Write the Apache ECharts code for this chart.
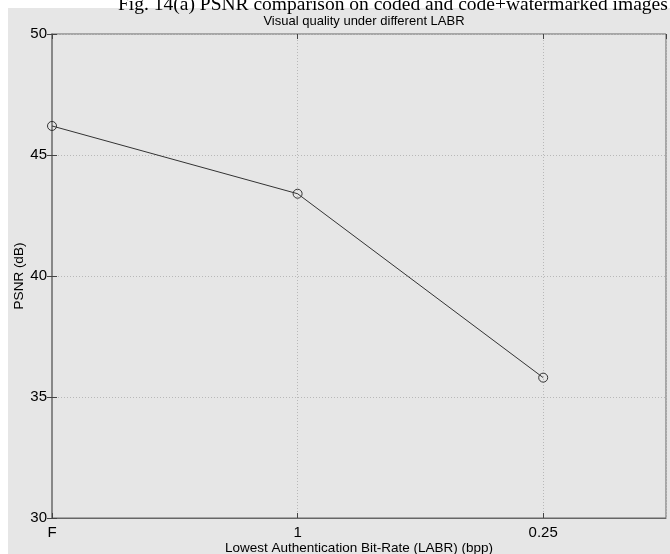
<!DOCTYPE html>
<html>
<head>
<meta charset="utf-8">
<script src="https://cdn.jsdelivr.net/npm/echarts@6/dist/echarts.min.js"></script>
<style>
html,body{margin:0;padding:0;background:#fff;}
#c{width:670px;height:554px;}
</style>
</head>
<body>
<div id="c"></div>
<script>
var categories = ['F', '1', '0.25'];
var psnr = [46.2, 43.4, 35.8];
var yTicks = [30, 35, 40, 45, 50];

var chart = echarts.init(document.getElementById('c'), null, {renderer: 'canvas'});
var seriesData = psnr.map(function (v, i) { return [i, v]; });
function xLabel(v) {
  var i = Math.round(v);
  if (Math.abs(v - i) < 1e-6 && i >= 0 && i < categories.length) return categories[i];
  return '';
}
var font = 'Liberation Sans, Arial, sans-serif';
chart.setOption({
  backgroundColor: '#fff',
  animation: false,
  graphic: [{
    type: 'rect', shape: {x: 8, y: 8, width: 662, height: 546}, z: -10,
    style: {fill: '#e6e6e6'}, silent: true
  }, {
    type: 'text', left: 118, top: -5, z: 10,
    style: {text: 'Fig. 14(a) PSNR comparison on coded and code+watermarked images', font: '19.5px "Liberation Serif", "Times New Roman", serif', fill: '#000'}
  }],
  title: {
    text: 'Visual quality under different LABR',
    left: 359, textAlign: 'center', top: 10,
    textStyle: {fontFamily: font, fontSize: 13, fontWeight: 'normal', color: '#000'}
  },
  grid: {left: 52, right: 4, top: 34, bottom: 36, show: true, borderColor: '#666', borderWidth: 1, backgroundColor: 'transparent', containLabel: false, outerBoundsMode: 'none'},
  xAxis: [{
    type: 'value', min: 0, max: 2.5, interval: 1, position: 'bottom',
    name: 'Lowest Authentication Bit-Rate (LABR) (bpp)', nameLocation: 'middle', nameGap: 23, nameMoveOverlap: false,
    nameTextStyle: {fontFamily: font, fontSize: 13.5, color: '#000'},
    axisLine: {show: true, lineStyle: {color: '#666', width: 1}},
    axisTick: {show: true, inside: true, length: 5, lineStyle: {color: '#444'}},
    axisLabel: {formatter: xLabel, fontFamily: font, fontSize: 15, color: '#000', margin: 7, showMaxLabel: false},
    splitLine: {show: true, lineStyle: {color: '#b8b8b8', type: [1, 2], width: 1}}
  }, {
    type: 'value', min: 0, max: 2.5, interval: 1, position: 'top',
    axisLine: {show: false},
    axisTick: {show: true, inside: true, length: 5, lineStyle: {color: '#444'}},
    axisLabel: {show: false}, splitLine: {show: false}
  }],
  yAxis: [{
    type: 'value', min: 30, max: 50, interval: 5,
    name: 'PSNR (dB)', nameLocation: 'middle', nameGap: 26, nameMoveOverlap: false,
    nameTextStyle: {fontFamily: font, fontSize: 13.5, color: '#000'},
    axisLine: {show: true, lineStyle: {color: '#888', width: 2}},
    axisTick: {show: true, inside: true, length: 5, lineStyle: {color: '#444'}},
    axisLabel: {fontFamily: font, fontSize: 15, color: '#000', margin: 5},
    splitLine: {show: true, lineStyle: {color: '#b8b8b8', type: [1, 2], width: 1}}
  }, {
    type: 'value', min: 30, max: 50, interval: 5, position: 'right',
    axisLine: {show: false},
    axisTick: {show: true, inside: true, length: 5, lineStyle: {color: '#444'}},
    axisLabel: {show: false}, splitLine: {show: false}
  }],
  series: [{
    type: 'line', data: seriesData, xAxisIndex: 0, yAxisIndex: 0,
    symbol: 'circle', symbolSize: 9, showSymbol: true,
    lineStyle: {color: '#333', width: 1},
    itemStyle: {color: 'transparent', borderColor: '#333', borderWidth: 1}
  }]
});
</script>
</body>
</html>
